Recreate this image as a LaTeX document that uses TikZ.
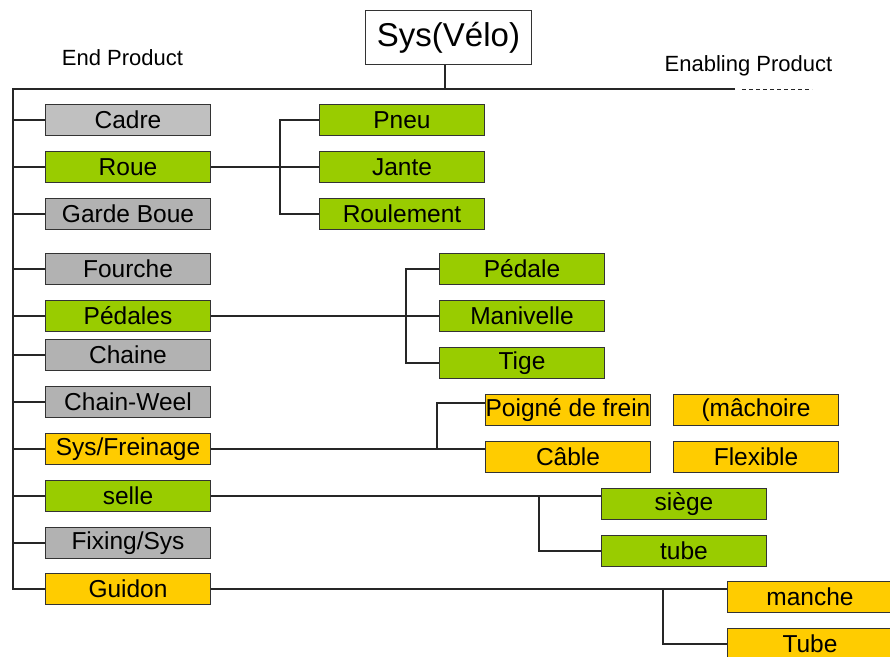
\documentclass[tikz,border=0pt]{standalone}
\usepackage{fontspec}
\setmainfont{Liberation Sans}
\begin{document}
\begin{tikzpicture}[x=1pt,y=-1pt,
  box/.style={draw=black!80, line width=1pt, minimum width=165pt, minimum height=31pt,
    inner sep=0pt, anchor=north west, font=\fontsize{24.5}{27}\selectfont},
  endgrey/.style={box, fill=greyA},
  grey/.style={box, fill=greyB},
  green/.style={box, fill=leaf},
  gold/.style={box, fill=amber},
  link/.style={draw=black!85, line width=1.2pt},
  caption/.style={font=\fontsize{22}{25}\selectfont, inner sep=0pt}]
\definecolor{greyA}{HTML}{C0C0C0}
\definecolor{greyB}{HTML}{B2B2B2}
\definecolor{leaf}{HTML}{99CC00}
\definecolor{amber}{HTML}{FFCC00}
\useasboundingbox (0,0) rectangle (890,656);

% root system
\node[draw=black!80, line width=1pt, minimum width=166pt, minimum height=54pt, anchor=north west,
  inner sep=0pt, font=\fontsize{33}{37}\selectfont] (root) at (365,10) {Sys(Vélo)};
\node[caption] (endp) at (122.5,58) {End Product};
\node[caption] (enab) at (748.5,66) {Enabling Product};

% first level: end product parts
\node[endgrey] (cadre)    at (45,104) {Cadre};
\node[green]   (roue)     at (45,151) {Roue};
\node[grey]    (garde)    at (45,198) {Garde Boue};
\node[grey]    (fourche)  at (45,253) {Fourche};
\node[green]   (pedales)  at (45,300) {Pédales};
\node[grey]    (chaine)   at (45,339) {Chaine};
\node[grey]    (chainw)   at (45,386) {Chain-Weel};
\node[gold]    (frein)    at (45,433) {Sys/Freinage};
\node[green]   (selle)    at (45,480) {selle};
\node[grey]    (fixing)   at (45,527) {Fixing/Sys};
\node[gold]    (guidon)   at (45,573) {Guidon};

% second level
\node[green] (pneu)      at (319,104) {Pneu};
\node[green] (jante)     at (319,151) {Jante};
\node[green] (roulement) at (319,198) {Roulement};

\node[green] (pedale)    at (439,253) {Pédale};
\node[green] (manivelle) at (439,300) {Manivelle};
\node[green] (tige)      at (439,347) {Tige};

\node[gold] (poigne)   at (485,394) {Poigné de frein};
\node[gold] (machoire) at (673,394) {(mâchoire};
\node[gold] (cable)    at (485,441) {Câble};
\node[gold] (flexible) at (673,441) {Flexible};

\node[green] (siege) at (601,488) {siège};
\node[green] (tube)  at (601,535) {tube};

\node[gold] (manche) at (727,581) {manche};
\node[gold] (Tube)   at (727,628) {Tube};

% main spine
\coordinate (hub)   at (445,89);
\coordinate (spine) at (13,89);
\coordinate (solidend) at (735,89);
\coordinate (dashstart) at (742,89);
\coordinate (dashend) at (812,89);
\draw[link] (hub |- root.south) -- (hub);
\draw[link] (solidend) -- (spine) -- (spine |- guidon.west) -- (guidon.west);
\draw[draw=black!85, line width=1pt, dash pattern=on 4pt off 3pt] (dashstart) -- (dashend);
\foreach \n in {cadre,roue,garde,fourche,pedales,chaine,chainw,frein,selle,fixing}
  \draw[link] (spine |- \n.west) -- (\n.west);

% Roue breakdown
\coordinate (busA) at (280,166.5);
\draw[link] (roue.east) -- (jante.west);
\draw[link] (pneu.west) -| (busA) |- (roulement.west);

% Pédales breakdown
\coordinate (busB) at (406,315.5);
\draw[link] (pedales.east) -- (manivelle.west);
\draw[link] (pedale.west) -| (busB) |- (tige.west);

% braking breakdown
\coordinate (busC) at (437,448.5);
\draw[link] (frein.east) -- (cable.west |- frein.east);
\draw[link] (busC) |- ([yshift=7pt]poigne.west);

% saddle breakdown
\coordinate (busD) at (539,495.5);
\draw[link] (selle.east) -- (siege.west |- selle.east);
\draw[link] (busD) |- (tube.west);

% handlebar breakdown
\coordinate (busE) at (663,588.5);
\draw[link] (guidon.east) -- (manche.west |- guidon.east);
\draw[link] (busE) |- (Tube.west);
\end{tikzpicture}
\end{document}
